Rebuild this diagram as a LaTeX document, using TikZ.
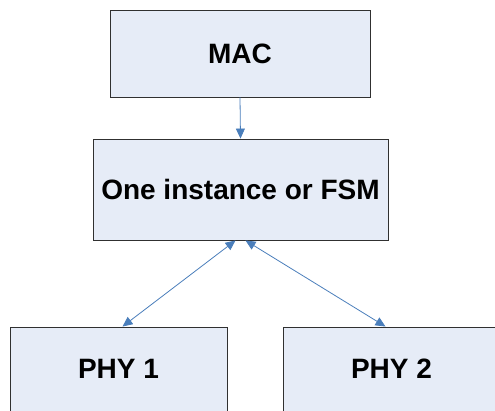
\documentclass[tikz,border=0pt]{standalone}
\usepackage{fontspec}
\setmainfont{Liberation Sans}
\usepackage{tikz}
\usetikzlibrary{arrows.meta, positioning}
\definecolor{boxfill}{HTML}{E6ECF7}
\definecolor{boxline}{HTML}{303030}
\definecolor{arrblue}{HTML}{4A7EBB}
\tikzset{
  layerbox/.style = {draw=boxline, fill=boxfill, line width=0.9pt, inner sep=0pt,
                     font=\fontsize{28}{33}\selectfont\bfseries},
  linkarr/.style  = {draw=arrblue, line width=0.8pt, -{Triangle[length=10pt, width=9pt]}},
  dualarr/.style  = {draw=arrblue, line width=0.8pt,
                     {Triangle[length=10pt, width=9pt]}-{Triangle[length=10pt, width=9pt]}},
}

\begin{document}
\begin{tikzpicture}[x=1pt, y=-1pt]
  \useasboundingbox (0,0) rectangle (495,410);
  \clip (0,0) rectangle (495,410);
  \node[layerbox, minimum width=260pt, minimum height=87pt] (mac) at (240,53.5) {MAC};
  \node[layerbox, minimum width=295pt, minimum height=101pt] (fsm) at (240.5,189.5) {One instance or FSM};
  \node[layerbox, minimum width=217pt, minimum height=84pt] (phya) at (118.5,369) {PHY 1};
  \node[layerbox, minimum width=217pt, minimum height=84pt] (phyb) at (391.5,369) {PHY 2};
  \draw[linkarr] (mac.south) -- (fsm.north);
  \draw[dualarr] ([xshift=-5pt]fsm.south) -- ([xshift=4pt]phya.north);
  \draw[dualarr] ([xshift=5pt]fsm.south) -- ([xshift=-6pt]phyb.north);
\end{tikzpicture}
\end{document}
